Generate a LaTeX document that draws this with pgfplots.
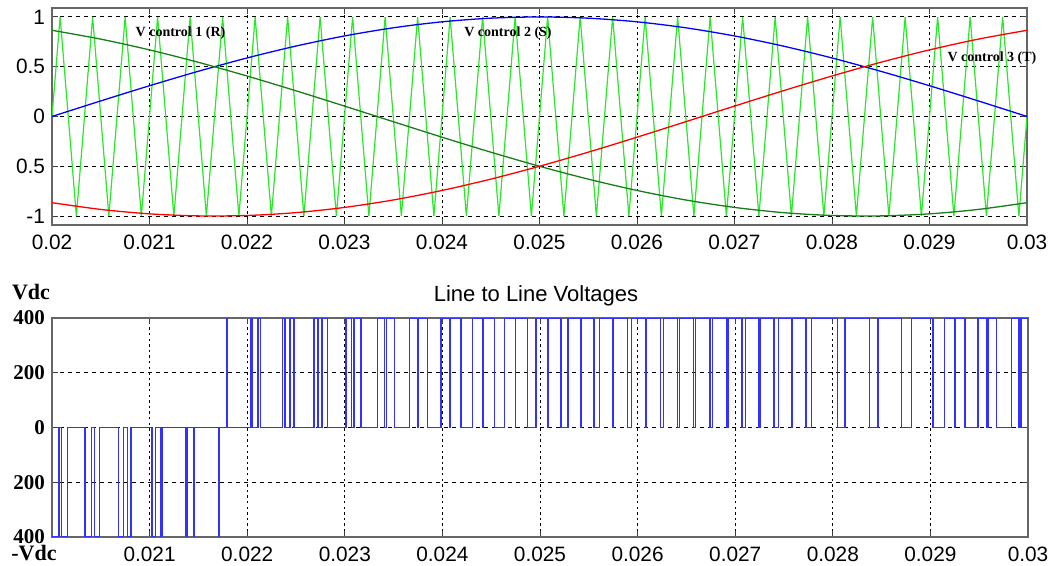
\documentclass[border=0pt]{standalone}
\usepackage{fontspec}
\setmainfont{Liberation Sans}
\newfontfamily\tnr{Liberation Serif}
\usepackage{pgfplots}
\pgfplotsset{compat=1.18}
\definecolor{carrier}{RGB}{40,232,40}
\definecolor{ctrlgreen}{RGB}{25,125,25}
\definecolor{pwmblue}{RGB}{50,50,255}

\pgfplotsset{
  mlab/.style={
    scale only axis,
    anchor=south west,
    xmin=0.02, xmax=0.03,
    xtick={0.02,0.021,0.022,0.023,0.024,0.025,0.026,0.027,0.028,0.029,0.03},
    scaled x ticks=false,
    tick align=inside,
    major tick length=3pt,
    every tick/.style={black!75, line width=0.5pt},
    axis line style={black!60, line width=0.9pt},
    grid=major,
    x grid style={black, line width=0.5pt, dash pattern=on 1.2pt off 1.6pt},
    y grid style={black, line width=0.5pt, dash pattern=on 2.2pt off 1.8pt},
    tick label style={font=\fontsize{10.4}{12}\selectfont},
    xticklabel style={yshift=-1.5pt},
    clip mode=individual,
  }
}

\begin{document}
\begin{tikzpicture}
% top: control signals and carrier
\begin{axis}[mlab, at={(26pt,170.5pt)}, width=487.5pt, height=108.5pt,
  ymin=-1.09, ymax=1.09,
  ytick={-1,-0.5,0,0.5,1}, yticklabels={-1,0.5,0,0.5,1},
  xticklabels={0.02,0.021,0.022,0.023,0.024,0.025,0.026,0.027,0.028,0.029,0.03}]
\addplot[carrier, line width=0.6pt] coordinates {
(0.02,0)
(0.0200833,1) (0.02025,-1) (0.0204167,1) (0.0205833,-1) (0.02075,1) (0.0209167,-1)
(0.0210833,1) (0.02125,-1) (0.0214167,1) (0.0215833,-1) (0.02175,1) (0.0219167,-1)
(0.0220833,1) (0.02225,-1) (0.0224167,1) (0.0225833,-1) (0.02275,1) (0.0229167,-1)
(0.0230833,1) (0.02325,-1) (0.0234167,1) (0.0235833,-1) (0.02375,1) (0.0239167,-1)
(0.0240833,1) (0.02425,-1) (0.0244167,1) (0.0245833,-1) (0.02475,1) (0.0249167,-1)
(0.0250833,1) (0.02525,-1) (0.0254167,1) (0.0255833,-1) (0.02575,1) (0.0259167,-1)
(0.0260833,1) (0.02625,-1) (0.0264167,1) (0.0265833,-1) (0.02675,1) (0.0269167,-1)
(0.0270833,1) (0.02725,-1) (0.0274167,1) (0.0275833,-1) (0.02775,1) (0.0279167,-1)
(0.0280833,1) (0.02825,-1) (0.0284167,1) (0.0285833,-1) (0.02875,1) (0.0289167,-1)
(0.0290833,1) (0.02925,-1) (0.0294167,1) (0.0295833,-1) (0.02975,1) (0.0299167,-1)
(0.03,0)};
\addplot[blue, line width=0.65pt, smooth] coordinates {
(0.02,0) (0.0205,0.1564) (0.021,0.3090) (0.0215,0.4540) (0.022,0.5878) (0.0225,0.7071)
(0.023,0.8090) (0.0235,0.8910) (0.024,0.9511) (0.0245,0.9877) (0.025,1) (0.0255,0.9877)
(0.026,0.9511) (0.0265,0.8910) (0.027,0.8090) (0.0275,0.7071) (0.028,0.5878) (0.0285,0.4540)
(0.029,0.3090) (0.0295,0.1564) (0.03,0)};
\addplot[ctrlgreen, line width=0.65pt, smooth] coordinates {
(0.02,0.8660) (0.0205,0.7771) (0.021,0.6691) (0.0215,0.5446) (0.022,0.4067) (0.0225,0.2588)
(0.023,0.1045) (0.0235,-0.0523) (0.024,-0.2079) (0.0245,-0.3584) (0.025,-0.5) (0.0255,-0.6293)
(0.026,-0.7431) (0.0265,-0.8387) (0.027,-0.9135) (0.0275,-0.9659) (0.028,-0.9945) (0.0285,-0.9986)
(0.029,-0.9781) (0.0295,-0.9336) (0.03,-0.8660)};
\addplot[red, line width=0.65pt, smooth] coordinates {
(0.02,-0.8660) (0.0205,-0.9336) (0.021,-0.9781) (0.0215,-0.9986) (0.022,-0.9945) (0.0225,-0.9659)
(0.023,-0.9135) (0.0235,-0.8387) (0.024,-0.7431) (0.0245,-0.6293) (0.025,-0.5) (0.0255,-0.3584)
(0.026,-0.2079) (0.0265,-0.0523) (0.027,0.1045) (0.0275,0.2588) (0.028,0.4067) (0.0285,0.5446)
(0.029,0.6691) (0.0295,0.7771) (0.03,0.8660)};
\node[font=\tnr\bfseries\fontsize{7}{8}\selectfont] at (axis cs:0.021318,0.84) {V control 1 (R)};
\node[font=\tnr\bfseries\fontsize{7}{8}\selectfont] at (axis cs:0.024677,0.84) {V control 2 (S)};
\node[font=\tnr\bfseries\fontsize{7}{8}\selectfont] at (axis cs:0.029641,0.588) {V control 3 (T)};
\end{axis}

% bottom: line to line voltage
\begin{axis}[mlab, at={(26pt,14.5pt)}, width=488pt, height=109.5pt,
  ymin=-400, ymax=400,
  ytick={-400,-200,0,200,400}, yticklabels={400,200,0,200,400},
  yticklabel style={font=\tnr\bfseries\fontsize{10.5}{12}\selectfont},
  xticklabels={,0.021,0.022,0.023,0.024,0.025,0.026,0.027,0.028,0.029,0.03}]
\addplot[pwmblue, line width=0.7pt, const plot] coordinates {
(0.0200000,-400) (0.0200732,0)
(0.0200980,-400) (0.0201601,0) (0.0203399,-400) (0.0204020,0)
(0.0204366,-400) (0.0204848,0) (0.0206818,-400) (0.0207300,0)
(0.0207760,-400) (0.0208097,0) (0.0210237,-400) (0.0210574,0)
(0.0211159,-400) (0.0211348,0) (0.0213652,-400) (0.0213841,0)
(0.0214564,-400) (0.0214602,0) (0.0217064,-400) (0.0217102,0)
(0.0217862,400) (0.0217975,0) (0.0220359,400) (0.0220472,0)
(0.0221125,400) (0.0221388,0) (0.0223612,400) (0.0223875,0)
(0.0224395,400) (0.0224805,0) (0.0226861,400) (0.0227271,0)
(0.0227672,400) (0.0228225,0) (0.0230109,400) (0.0230662,0)
(0.0230956,400) (0.0231645,0) (0.0233355,400) (0.0234044,0)
(0.0234247,400) (0.0235065,0) (0.0236601,400) (0.0237419,0)
(0.0237548,400) (0.0238485,0) (0.0239849,400) (0.0240786,0)
(0.0240856,400) (0.0241903,0) (0.0243097,400) (0.0244144,0)
(0.0244173,400) (0.0245319,0) (0.0246347,400) (0.0247493,0)
(0.0247501,400) (0.0248731,0) (0.0249603,400) (0.0250833,0)
(0.0250836,400) (0.0252139,0) (0.0252861,400) (0.0254164,0)
(0.0254180,400) (0.0255541,0) (0.0256125,400) (0.0257486,0)
(0.0257535,400) (0.0258938,0) (0.0259396,400) (0.0260799,0)
(0.0260897,400) (0.0262328,0) (0.0262672,400) (0.0264103,0)
(0.0264267,400) (0.0265710,0) (0.0265956,400) (0.0267399,0)
(0.0267647,400) (0.0269086,0) (0.0269248,400) (0.0270687,0)
(0.0271033,400) (0.0272452,0) (0.0272548,400) (0.0273967,0)
(0.0274426,400) (0.0275810,0) (0.0275856,400) (0.0277240,0)
(0.0277826,400) (0.0280508,0)
(0.0281231,400) (0.0283769,0)
(0.0284641,400) (0.0287025,0)
(0.0288055,400) (0.0290279,0)
(0.0291472,400) (0.0292466,0) (0.0292534,400) (0.0293528,0)
(0.0294891,400) (0.0295770,0) (0.0295896,400) (0.0296775,0)
(0.0298312,400) (0.0299066,0) (0.0299268,400)
(0.0300000,400)};
\end{axis}

\node[font=\fontsize{11}{13}\selectfont] at (268pt,135pt) {Line to Line Voltages};
\node[font=\tnr\bfseries\fontsize{11}{13}\selectfont] at (15.5pt,137pt) {Vdc};
\node[font=\tnr\bfseries\fontsize{11}{13}\selectfont] at (17pt,6.5pt) {-Vdc};

\pgfresetboundingbox
\useasboundingbox (0,0) rectangle (526pt,283pt);
\end{tikzpicture}
\end{document}
